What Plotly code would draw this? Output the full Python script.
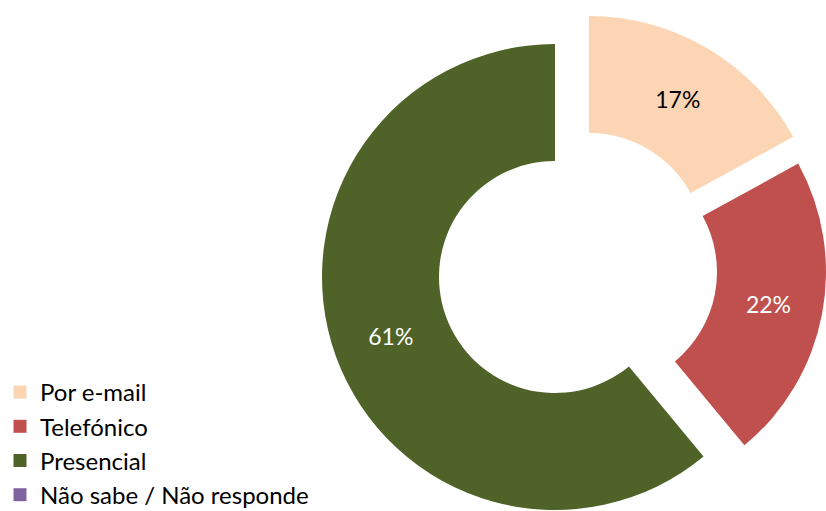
import plotly.graph_objects as go

# data
labels = ["Por e-mail", "Telefónico", "Presencial", "Não sabe / Não responde"]
values = [17, 22, 61, 0]
colors = ["#FCD5B5", "#C0504D", "#4F6228", "#8064A2"]
label_colors = ["black", "white", "white", "white"]

W, H = 826, 511
FONT = "Lato, 'Open Sans', sans-serif"

# each drawn slice gets its own trace so that it can be exploded like in Excel
# (index, centre x, centre y, outer radius) in pixels
slice_layout = [
    (2, 555, 277, 233),
    (0, 589, 249, 233),
    (1, 601, 272, 225),  # sits against the right edge
]
inner_radius = 116


def domain_for(cx, cy, r):
    return dict(x=[max(0, (cx - r) / W), min(1, (cx + r) / W)],
                y=[max(0, 1 - (cy + r) / H), min(1, 1 - (cy - r) / H)])


fig = go.Figure()

for idx, cx, cy, r in slice_layout:
    slice_colors = [c if i == idx else "rgba(0,0,0,0)" for i, c in enumerate(colors)]
    templates = ["%{percent:.0%}" if i == idx else "" for i in range(len(labels))]
    fig.add_trace(go.Pie(
        labels=labels, values=values,
        sort=False, direction="clockwise", rotation=0,
        hole=inner_radius / r,
        domain=domain_for(cx, cy, r),
        marker=dict(colors=slice_colors, line=dict(width=0)),
        texttemplate=templates, textposition="inside",
        insidetextorientation="horizontal",
        insidetextfont=dict(family=FONT, size=23, color=label_colors[idx]),
        showlegend=False, hoverinfo="skip",
    ))

# legend entries
for lab, col in zip(labels, colors):
    fig.add_trace(go.Scatter(
        x=[None], y=[None], mode="markers", name=lab,
        marker=dict(symbol="square", size=13, color=col),
        legendgroup=lab,
    ))

fig.update_layout(
    width=W, height=H,
    margin=dict(l=0, r=0, t=0, b=0, autoexpand=False),
    paper_bgcolor="white", plot_bgcolor="white",
    xaxis=dict(visible=False), yaxis=dict(visible=False),
    font=dict(family=FONT, size=24, color="black"),
    legend=dict(x=0, y=1 - 370 / H, xanchor="left", yanchor="top",
                traceorder="normal", tracegroupgap=13,
                font=dict(family=FONT, size=24, color="black"),
                bgcolor="rgba(0,0,0,0)"),
)

fig.write_html("out.html", config={"displayModeBar": False},
               post_script="document.body.style.margin = '0';")
